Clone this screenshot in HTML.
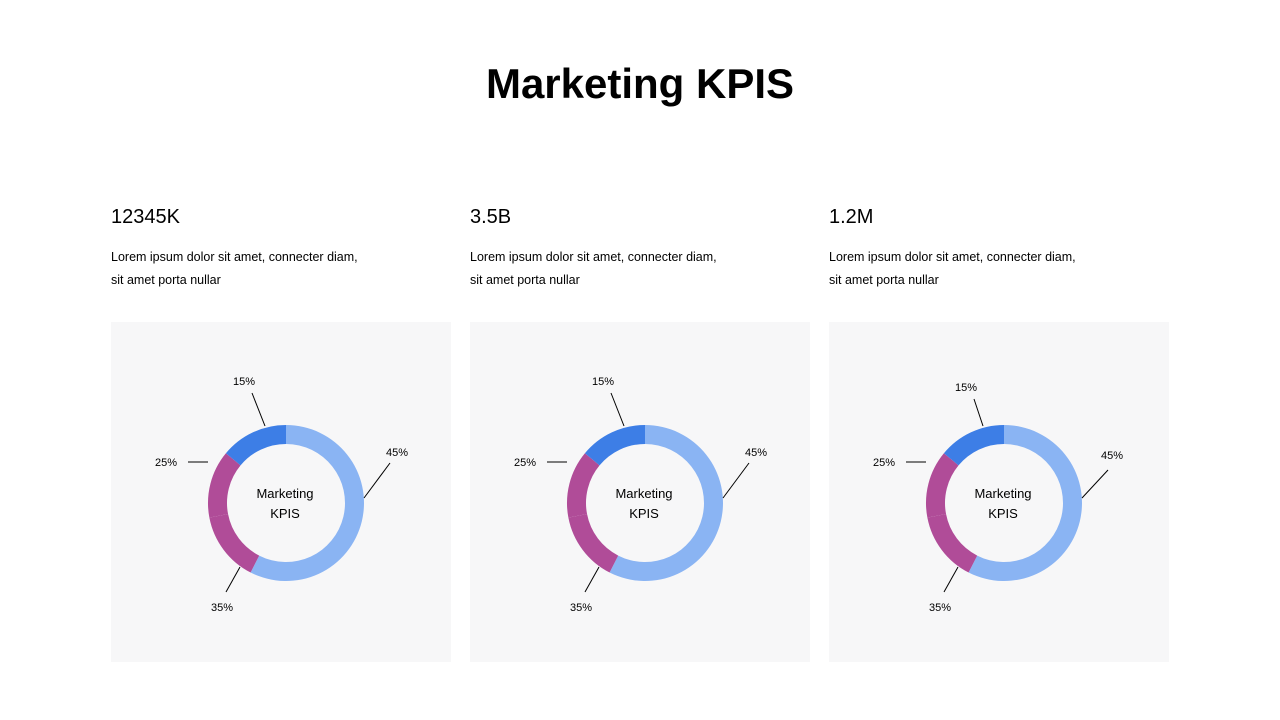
<!DOCTYPE html>
<html><head><meta charset="utf-8"><style>
body{margin:0;width:1280px;height:720px;background:#fff;font-family:"Liberation Sans",sans-serif;position:relative;overflow:hidden}
.t{position:absolute;white-space:nowrap;color:#000}
.panel{position:absolute;top:322px;width:340px;height:340px;background:#f7f7f8}
</style></head><body>
<div class="t" style="left:0;width:1280px;text-align:center;top:60px;font-size:42px;font-weight:bold">Marketing KPIS</div>
<div id="cols"></div>
<svg id="svg" width="1280" height="720" style="position:absolute;left:0;top:0"></svg>
<script>
const kpis=["12345K","3.5B","1.2M"];
const sliceValues=[57.5,14.5,14,14];
const sliceLabels=["45%","35%","25%","15%"];
const sliceColors=["#8ab4f3","#b04c98","#b04c98","#3d7ee6"];
const panelX=[111,470,829];
const NS="http://www.w3.org/2000/svg";
const svg=document.getElementById('svg');
const cols=document.getElementById('cols');
function mk(tag,attrs){const e=document.createElementNS(NS,tag);for(const k in attrs)e.setAttribute(k,attrs[k]);return e;}
function pt(cx,cy,r,a){return [cx+r*Math.sin(a),cy-r*Math.cos(a)];}
panelX.forEach((px,i)=>{
  const p=document.createElement('div');p.className='panel';p.style.left=px+'px';
  
  
  cols.appendChild(p);
  const h=document.createElement('div');h.className='t';h.style.cssText=`left:${px}px;top:206px;font-size:20px`;h.textContent=kpis[i];
  
  
  cols.appendChild(h);
  ["Lorem ipsum dolor sit amet, connecter diam,","sit amet porta nullar"].forEach((s,j)=>{
    const d=document.createElement('div');d.className='t';d.style.cssText=`left:${px}px;top:${250+j*23}px;font-size:12.5px`;d.textContent=s;
    
    
    cols.appendChild(d);
  });
  const cx=px+175,cy=503,R=78,r=59;
  const total=sliceValues.reduce((a,b)=>a+b,0);
  let a0=0;
  const mids=[];
  sliceValues.forEach((v,k)=>{
    const a1=a0+v/total*2*Math.PI;
    const [x0,y0]=pt(cx,cy,R,a0),[x1,y1]=pt(cx,cy,R,a1),[x2,y2]=pt(cx,cy,r,a1),[x3,y3]=pt(cx,cy,r,a0);
    const lg=(a1-a0)>Math.PI?1:0;
    const path=mk('path',{d:`M${x0},${y0}A${R},${R} 0 ${lg} 1 ${x1},${y1}L${x2},${y2}A${r},${r} 0 ${lg} 0 ${x3},${y3}Z`,fill:sliceColors[k]});
    
    
    svg.appendChild(path);
    mids.push((a0+a1)/2);a0=a1;
  });
  // leader lines and labels
  const lines=[[[cx+78,cy-5],[cx+104,cy-40],[cx+111,cy-51]],[[cx-46,cy+64],[cx-60,cy+89],[cx-64,cy+104]],[[cx-78,cy-41],[cx-98,cy-41],[cx-120,cy-41]],[[cx-21,cy-77],[cx-34,cy-110],[cx-42,cy-122]]];
  if(i===2){lines[0][1]=[cx+104,cy-33];lines[0][2]=[cx+108,cy-48];lines[3][1]=[cx-30,cy-104];lines[3][2]=[cx-38,cy-116];}
  lines.forEach((L,k)=>{
    const ln=mk('line',{x1:L[0][0],y1:L[0][1],x2:L[1][0],y2:L[1][1],stroke:'#000','stroke-width':1});
    
    
    svg.appendChild(ln);
    const t=mk('text',{x:L[2][0],y:L[2][1]+4,'font-size':11,'text-anchor':'middle','font-family':'Liberation Sans, sans-serif'});
    t.textContent=sliceLabels[k];
    
    
    svg.appendChild(t);
  });
  ["Marketing","KPIS"].forEach((s,j)=>{
    const t=mk('text',{x:cx-1,y:cy-5+j*20,'font-size':13,'text-anchor':'middle','font-family':'Liberation Sans, sans-serif'});
    t.textContent=s;
    
    
    svg.appendChild(t);
  });
});
</script>
</body></html>
